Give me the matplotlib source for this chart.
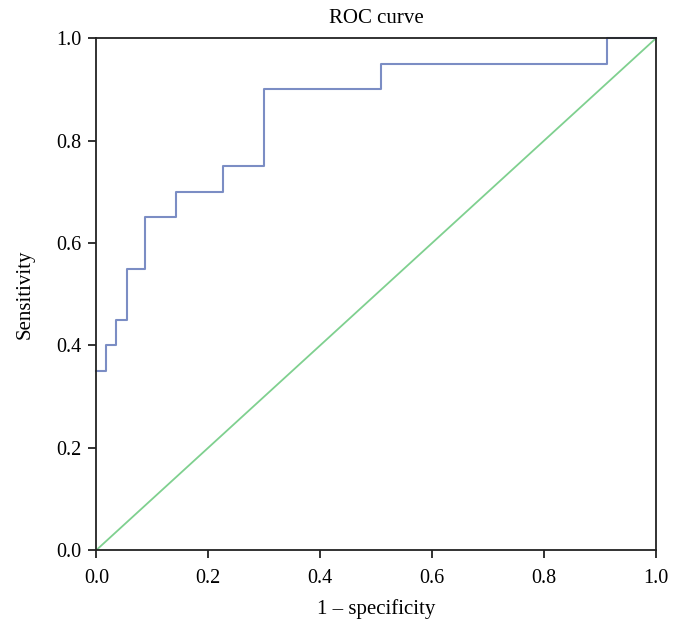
import matplotlib
matplotlib.use("Agg")
import matplotlib.pyplot as plt

plt.rcParams['font.family'] = ['Liberation Serif', 'DejaVu Serif']

# ROC step curve (1 - specificity, sensitivity)
fpr = [0.0, 0.0, 0.017, 0.017, 0.035, 0.035, 0.054, 0.054, 0.087, 0.087,
       0.142, 0.142, 0.227, 0.227, 0.30, 0.30, 0.508, 0.508, 0.913, 0.913, 1.0]
tpr = [0.0, 0.35, 0.35, 0.40, 0.40, 0.45, 0.45, 0.55, 0.55, 0.65,
       0.65, 0.70, 0.70, 0.75, 0.75, 0.90, 0.90, 0.95, 0.95, 1.0, 1.0]
ref_x = [0.0, 1.0]
ref_y = [0.0, 1.0]
ticks = [0.0, 0.2, 0.4, 0.6, 0.8, 1.0]

fig = plt.figure(figsize=(6.84, 6.31), dpi=100)
ax = fig.add_axes([0.141, 0.1284, 0.818, 0.8109])

ax.plot(ref_x, ref_y, color='#7fd08f', lw=1.3, clip_on=False)
ax.plot(fpr[1:], tpr[1:], color='#7b8dc4', lw=1.5, clip_on=False)

ax.set_xlim(0, 1)
ax.set_ylim(0, 1)
ax.set_xticks(ticks)
ax.set_yticks(ticks)
ax.set_xticklabels([f"{t:.1f}" for t in ticks])
ax.set_yticklabels([f"{t:.1f}" for t in ticks])
ax.tick_params(axis='both', labelsize=14.5, length=6, width=1.3, direction='out',
               colors='#222222', labelcolor='black')
ax.tick_params(axis='x', pad=7.5)
ax.tick_params(axis='y', pad=5)
for s in ax.spines.values():
    s.set_linewidth(1.3)
    s.set_color('#222222')

ax.set_title("ROC curve", fontsize=15, pad=11)
ax.set_xlabel("1 – specificity", fontsize=15, labelpad=8)
ax.set_ylabel("Sensitivity", fontsize=15, labelpad=15)

fig.savefig("out.png", dpi=100)
